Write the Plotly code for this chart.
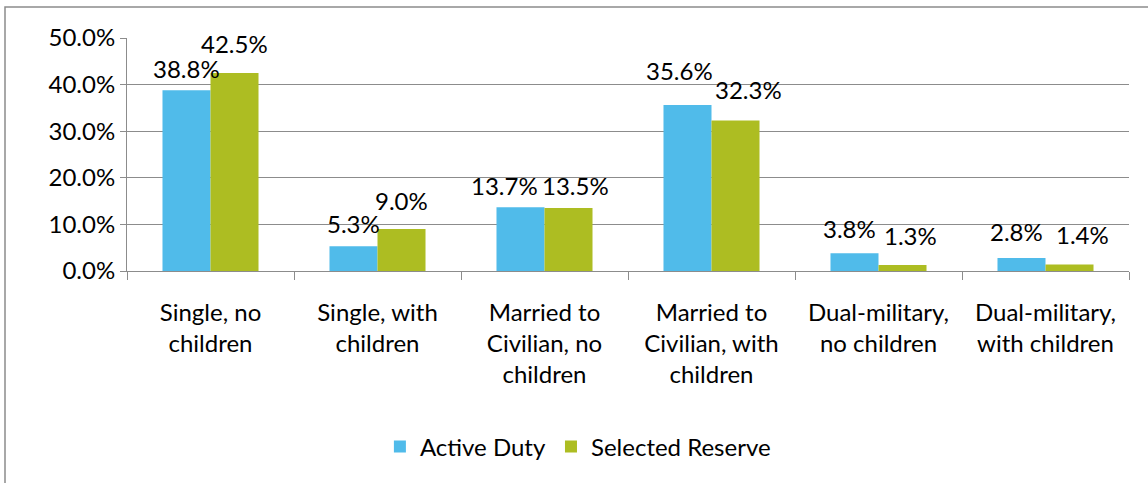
import plotly.graph_objects as go

categories = ["Single, no<br>children", "Single, with<br>children", "Married to<br>Civilian, no<br>children",
              "Married to<br>Civilian, with<br>children", "Dual-military,<br>no children", "Dual-military,<br>with children"]
active_duty = [38.8, 5.3, 13.7, 35.6, 3.8, 2.8]
selected_reserve = [42.5, 9.0, 13.5, 32.3, 1.3, 1.4]
series_names = ["Active Duty", "Selected Reserve"]
colors = ["#50BBEA", "#ADBD22"]
y_ticks = [0, 10, 20, 30, 40, 50]
y_tick_text = [f"{v:.1f}%" for v in y_ticks]

# label nudges (pixels) to mimic the de-overlapped data labels
label_dx = [[0, 0, -16, -8, -5, -5], [0, 0, 7, 13, 8, 13]]
label_dy = [[0, 1, 0, 13, 3, 5], [8, 7, 1, 9, 8, 8]]

W, H = 1148, 483
L, R, T, B = 127, 19, 38, 212
pw, ph = W - L - R, H - T - B
FONT = "Lato, Calibri, Carlito, sans-serif"
FS = 24
BARGAP = 0.425
half_bar = pw / len(categories) * (1 - BARGAP) / 4

fig = go.Figure()
annotations = []
for s, (name, vals, c) in enumerate(zip(series_names, [active_duty, selected_reserve], colors)):
    fig.add_trace(go.Bar(
        x=categories, y=vals, name=name, marker=dict(color=c, line=dict(width=0)),
    ))
    sign = -1 if s == 0 else 1
    for i, (cat, v) in enumerate(zip(categories, vals)):
        annotations.append(dict(
            x=cat, y=v, xref="x", yref="y", text=f"{v:.1f}%", showarrow=False,
            xanchor="center", yanchor="bottom",
            xshift=sign * half_bar + label_dx[s][i], yshift=5 + label_dy[s][i],
            font=dict(size=FS, color="#000000", family=FONT),
        ))

fig.update_layout(
    width=W, height=H, margin=dict(l=L, r=R, t=T, b=B, autoexpand=False),
    paper_bgcolor="white", plot_bgcolor="white",
    barmode="group", bargap=BARGAP, bargroupgap=0,
    font=dict(family=FONT, size=FS, color="#000000"),
    legend=dict(orientation="h", x=0.45, xanchor="center", y=(271 - 447) / ph, yanchor="middle",
                font=dict(size=FS), traceorder="normal"),
    annotations=annotations,
    shapes=[dict(type="rect", xref="paper", yref="paper",
                 x0=(5 - L) / pw, x1=(1152 - L) / pw, y0=(271 - 490) / ph, y1=(271 - 7) / ph,
                 line=dict(color="#8C8C8C", width=1.5), layer="below")],
)
fig.update_yaxes(range=[0, 50], tickvals=y_ticks, ticktext=y_tick_text, automargin=False,
                 showgrid=True, gridcolor="#8C8C8C", gridwidth=1, zeroline=False,
                 showline=True, linecolor="#8C8C8C", linewidth=1,
                 ticks="outside", ticklen=6, tickcolor="#8C8C8C",
                 tickfont=dict(size=FS, color="#000000"))
fig.update_xaxes(showline=True, linecolor="#8C8C8C", linewidth=1, tickson="boundaries", automargin=False,
                 ticks="outside", ticklen=8, tickcolor="#8C8C8C", showgrid=False,
                 ticklabelstandoff=20,
                 tickfont=dict(size=FS, color="#000000"), tickangle=0)

fig.write_html("out.html", config={"displayModeBar": False},
               post_script="document.body.style.margin='0px';")
